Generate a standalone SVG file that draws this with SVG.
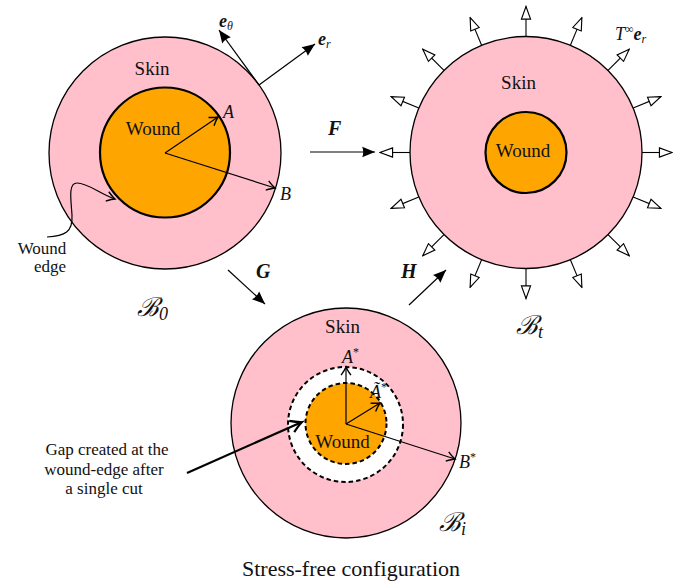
<svg xmlns="http://www.w3.org/2000/svg" width="684" height="584" viewBox="0 0 684 584">
<defs>
<style>
.skin{fill:#FFC0CB;stroke:#000;stroke-width:1.3}
.wound{fill:#FFA500;stroke:#000;stroke-width:2.2}
.dash{stroke:#000;stroke-width:2;stroke-dasharray:4.5 3}
.t{fill:#111}
.lbl{font-size:19px;text-anchor:middle}
.it{font-style:italic}
.bi{font-style:italic;font-weight:bold}
.cal{font-style:italic;font-size:26px}
.sub{font-style:italic;font-size:18px}
.ln{stroke:#000;stroke-width:1.2;fill:none}
</style>
<marker id="to" markerUnits="userSpaceOnUse" markerWidth="14" markerHeight="14" viewBox="-8 -6 10 12" refX="0" refY="0" orient="auto">
<path d="M-7,-4.2 Q-2.5,-1 0,0 Q-2.5,1 -7,4.2" fill="none" stroke="#000" stroke-width="1.2"/>
</marker>
<marker id="toThick" markerUnits="userSpaceOnUse" markerWidth="18" markerHeight="18" viewBox="-11 -8 13 16" refX="0" refY="0" orient="auto">
<path d="M-10,-5.5 Q-3.5,-1.2 0,0 Q-3.5,1.2 -10,5.5" fill="none" stroke="#000" stroke-width="2"/>
</marker>
<marker id="latex" markerUnits="userSpaceOnUse" markerWidth="16" markerHeight="16" viewBox="-14 -7 15 14" refX="0" refY="0" orient="auto">
<path d="M0,0 L-12,-5 Q-10,0 -12,5 Z" fill="#000"/>
</marker>
<marker id="open" markerUnits="userSpaceOnUse" markerWidth="16" markerHeight="16" viewBox="-13 -7 14 14" refX="0" refY="0" orient="auto">
<path d="M0,0 L-11,-4 L-11,4 Z" fill="#fff" stroke="#000" stroke-width="1"/>
</marker>
<line id="ray" x1="116" y1="0" x2="146" y2="0" stroke="#000" stroke-width="1.1" marker-end="url(#open)"/>
</defs>
<rect width="684" height="584" fill="#fff"/>
<g font-family="Liberation Serif, serif">

<g id="node-B0">
<circle class="skin" cx="165" cy="153" r="116"/>
<circle class="wound" cx="165" cy="152.5" r="65"/>
<text class="t lbl" x="152" y="75">Skin</text>
<text class="t lbl" x="153" y="135">Wound</text>
<line class="ln" x1="165" y1="153" x2="218" y2="117" marker-end="url(#to)"/>
<line class="ln" x1="165" y1="153" x2="275" y2="188" marker-end="url(#to)"/>
<text class="t it" x="223" y="118" font-size="18">A</text>
<text class="t it" x="280" y="200" font-size="18">B</text>
<line class="ln" x1="259" y1="85" x2="219" y2="30" marker-end="url(#latex)"/>
<line class="ln" x1="259" y1="85" x2="315" y2="44" marker-end="url(#latex)"/>
<text class="t" x="219" y="27" font-size="18"><tspan class="bi">e</tspan><tspan class="it" font-size="12" dy="3">θ</tspan></text>
<text class="t" x="318" y="45" font-size="18"><tspan class="bi">e</tspan><tspan class="it" font-size="12" dy="3">r</tspan></text>
<path class="ln" d="M47,237 C65,236 73,232 72,215 C71,200 68,183 77,183 C88,183 100,194 115,199" marker-end="url(#to)"/>
<text class="t" x="42" y="254" font-size="17" text-anchor="middle">Wound</text>
<text class="t" x="50" y="272" font-size="17" text-anchor="middle">edge</text>
<text class="t cal" x="137" y="316" font-family="DejaVu Serif, serif">ℬ<tspan class="sub" font-style="normal" font-family="Liberation Serif, serif" dy="4">0</tspan></text>
</g>

<g id="node-Bt">
<g transform="translate(526,152.5)">
<use href="#ray"/>
<use href="#ray" transform="rotate(22.5)"/>
<use href="#ray" transform="rotate(45)"/>
<use href="#ray" transform="rotate(67.5)"/>
<use href="#ray" transform="rotate(90)"/>
<use href="#ray" transform="rotate(112.5)"/>
<use href="#ray" transform="rotate(135)"/>
<use href="#ray" transform="rotate(157.5)"/>
<use href="#ray" transform="rotate(180)"/>
<use href="#ray" transform="rotate(202.5)"/>
<use href="#ray" transform="rotate(225)"/>
<use href="#ray" transform="rotate(247.5)"/>
<use href="#ray" transform="rotate(270)"/>
<use href="#ray" transform="rotate(292.5)"/>
<use href="#ray" transform="rotate(315)"/>
<use href="#ray" transform="rotate(337.5)"/>
</g>
<circle class="skin" cx="526" cy="152.5" r="116"/>
<circle class="wound" cx="526" cy="152.5" r="40.5"/>
<text class="t lbl" x="518.5" y="89">Skin</text>
<text class="t lbl" x="523" y="157">Wound</text>
<text class="t" x="615" y="40" font-size="18"><tspan class="it">T</tspan><tspan font-size="12" dy="-7">∞</tspan><tspan class="bi" dy="7">e</tspan><tspan class="it" font-size="12" dy="3">r</tspan></text>
<text class="t cal" x="516" y="334" font-family="DejaVu Serif, serif">ℬ<tspan class="sub" font-family="Liberation Serif, serif" dy="4">t</tspan></text>
</g>

<g id="node-Bi">
<circle class="skin" cx="346" cy="423" r="115"/>
<circle class="dash" fill="#fff" cx="345.5" cy="424.5" r="57.5"/>
<circle class="dash" fill="#FFA500" cx="346" cy="423.5" r="40.5"/>
<text class="t lbl" x="342.5" y="333">Skin</text>
<text class="t lbl" x="342.5" y="448">Wound</text>
<line class="ln" x1="346" y1="424" x2="346" y2="367" marker-end="url(#to)"/>
<line class="ln" x1="346" y1="424" x2="380" y2="403" marker-end="url(#to)"/>
<line class="ln" x1="346" y1="424" x2="455" y2="459" marker-end="url(#to)"/>
<text class="t it" x="342" y="363" font-size="18">A<tspan font-style="normal" font-size="12" dy="-7">*</tspan></text>
<text class="t it" x="370" y="398" font-size="18">Ã<tspan font-style="normal" font-size="12" dy="-7">*</tspan></text>
<text class="t it" x="459" y="468" font-size="18">B<tspan font-style="normal" font-size="12" dy="-7">*</tspan></text>
<text class="t cal" x="439" y="531" font-family="DejaVu Serif, serif">ℬ<tspan class="sub" font-family="Liberation Serif, serif" dy="4">i</tspan></text>
</g>

<g id="node-gap-label">
<text class="t" font-size="17" text-anchor="middle"><tspan x="107" y="455">Gap created at the</tspan><tspan x="104" y="474.5">wound-edge after</tspan><tspan x="104" y="494">a single cut</tspan></text>
</g>

<g id="title">
<text class="t" x="351" y="576" font-size="22" text-anchor="middle">Stress-free configuration</text>
</g>

<g id="connectors">
<line class="ln" x1="310" y1="152" x2="375" y2="152" marker-end="url(#latex)"/>
<line class="ln" x1="228" y1="270" x2="265" y2="304" marker-end="url(#latex)"/>
<line class="ln" x1="409" y1="305" x2="446" y2="270" marker-end="url(#latex)"/>
<line x1="187" y1="473" x2="302" y2="422" stroke="#000" stroke-width="2.2" marker-end="url(#toThick)"/>
<text class="t bi" x="328" y="135" font-size="20">F</text>
<text class="t bi" x="256" y="278" font-size="20">G</text>
<text class="t bi" x="401" y="278" font-size="20">H</text>
</g>
</g>
</svg>
